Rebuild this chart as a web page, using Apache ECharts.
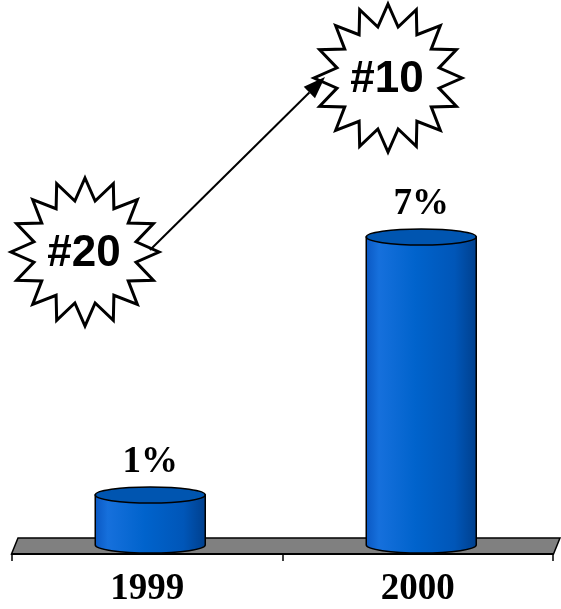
<!DOCTYPE html>
<html>
<head>
<meta charset="utf-8">
<script src="https://cdn.jsdelivr.net/npm/echarts@6/dist/echarts.min.js"></script>
<style>
  html, body { margin: 0; padding: 0; background: #fff; }
  #chart { width: 561px; height: 609px; }
</style>
</head>
<body>
<div id="chart"></div>
<script>
// Market share by year, with the ranking shown in the bursts
const categories = ['1999', '2000'];
const shares = [1, 7];
const shareLabels = ['1%', '7%'];
const ranks = ['#20', '#10'];

const chart = echarts.init(document.getElementById('chart'), null, { renderer: 'canvas' });

const BAR_W = 110;      // cylinder diameter
const RY = 8;           // ellipse half-height of the cylinder caps
const DEPTH = [-6.5, 16]; // floor depth vector (back edge -> front edge)
const SERIF = '"Liberation Serif", "Times New Roman", serif';

// Cylinder body gradient, lit from the left
const bodyFill = new echarts.graphic.LinearGradient(0, 0, 1, 0, [
  { offset: 0, color: '#0a57c2' },
  { offset: 0.12, color: '#1670dc' },
  { offset: 0.45, color: '#0063cc' },
  { offset: 0.8, color: '#0056b8' },
  { offset: 1, color: '#003f8c' }
]);

function starPoints(cx, cy, rOut, rIn, n) {
  const pts = [];
  for (let i = 0; i < n * 2; i++) {
    const a = -Math.PI / 2 + i * Math.PI / n;
    const r = i % 2 === 0 ? rOut : rIn;
    pts.push([cx + r * Math.cos(a), cy + r * Math.sin(a)]);
  }
  return pts;
}

function burst(cx, cy, text) {
  return [
    {
      type: 'polygon',
      z: 10,
      shape: { points: starPoints(cx, cy, 74, 52, 16) },
      style: { fill: '#fff', stroke: '#000', lineWidth: 3, lineJoin: 'miter' }
    },
    {
      type: 'text',
      z: 11,
      x: cx - 1, y: cy + 2,
      style: {
        text: text,
        fill: '#000',
        font: 'bold 44px "Liberation Sans", Arial, sans-serif',
        align: 'center',
        verticalAlign: 'middle'
      }
    }
  ];
}

// Arrow from the first burst toward the second
const arrowFrom = [150, 250];
const arrowTo = [325, 77];
const adx = arrowTo[0] - arrowFrom[0], ady = arrowTo[1] - arrowFrom[1];
const alen = Math.sqrt(adx * adx + ady * ady);
const ux = adx / alen, uy = ady / alen;
const HEAD_L = 22, HEAD_W = 8;
const headBase = [arrowTo[0] - ux * HEAD_L, arrowTo[1] - uy * HEAD_L];

const option = {
  animation: false,
  backgroundColor: '#fff',
  grid: [
    { left: 18, right: 1, top: 22, bottom: 71 },
    { left: 12, right: 8, bottom: 55, height: 1 }
  ],
  xAxis: [
    {
      gridIndex: 0, type: 'category', data: categories,
      axisLine: { show: false }, axisTick: { show: false }, axisLabel: { show: false },
      splitLine: { show: false }
    },
    {
      gridIndex: 1, type: 'category', data: categories,
      axisLine: { show: true, lineStyle: { color: '#000', width: 2 } },
      axisTick: { show: true, length: 7, lineStyle: { color: '#000', width: 1.5 } },
      axisLabel: {
        color: '#000', fontSize: 37, fontWeight: 'bold',
        fontFamily: SERIF,
        margin: 17
      },
      z: 5
    }
  ],
  yAxis: [
    { gridIndex: 0, type: 'value', min: 0, max: 12, show: false, splitLine: { show: false } },
    { gridIndex: 1, type: 'value', show: false, splitLine: { show: false } }
  ],
  series: [
    {
      // gray floor under the cylinders
      type: 'custom',
      xAxisIndex: 0, yAxisIndex: 0,
      data: [[0]],
      z: 1,
      silent: true,
      renderItem: function (params, api) {
        const cs = params.coordSys;
        const yb = cs.y + cs.height;
        return {
          type: 'polygon',
          shape: {
            points: [
              [cs.x, yb], [cs.x + cs.width, yb],
              [cs.x + cs.width + DEPTH[0], yb + DEPTH[1]],
              [cs.x + DEPTH[0], yb + DEPTH[1]]
            ]
          },
          style: { fill: '#808080', stroke: '#000', lineWidth: 1.5 }
        };
      }
    },
    {
      // cylinders
      type: 'custom',
      xAxisIndex: 0, yAxisIndex: 0,
      data: categories.map((c, i) => [i, shares[i]]),
      z: 3,
      renderItem: function (params, api) {
        const idx = params.dataIndex;
        const topPt = api.coord([api.value(0), api.value(1)]);
        const basePt = api.coord([api.value(0), 0]);
        const cx = topPt[0] + DEPTH[0] / 2;
        const yt = topPt[1];
        const yb = basePt[1] + DEPTH[1] / 2 - 1;
        const rx = BAR_W / 2;
        const x0 = cx - rx, x1 = cx + rx;
        const bodyPath =
          'M' + x0 + ' ' + yt + ' L' + x0 + ' ' + yb +
          ' A' + rx + ' ' + RY + ' 0 0 0 ' + x1 + ' ' + yb +
          ' L' + x1 + ' ' + yt + ' Z';
        return {
          type: 'group',
          children: [
            {
              type: 'path',
              shape: { pathData: bodyPath },
              style: { fill: bodyFill, stroke: '#000', lineWidth: 1.5 }
            },
            {
              type: 'ellipse',
              shape: { cx: cx, cy: yt, rx: rx, ry: RY },
              style: { fill: '#0055b0', stroke: '#000', lineWidth: 1.5 }
            },
            {
              type: 'text',
              x: cx, y: yt - 33,
              style: {
                text: shareLabels[idx],
                fill: '#000',
                font: 'bold 37px ' + SERIF,
                align: 'center',
                verticalAlign: 'middle'
              }
            }
          ]
        };
      }
    }
  ],
  graphic: [
    ...burst(85, 252, ranks[0]),
    ...burst(388, 78, ranks[1]),
    {
      type: 'line', z: 12,
      shape: { x1: arrowFrom[0], y1: arrowFrom[1], x2: headBase[0], y2: headBase[1] },
      style: { stroke: '#000', lineWidth: 2 }
    },
    {
      type: 'polygon', z: 12,
      shape: {
        points: [
          arrowTo,
          [headBase[0] - uy * HEAD_W, headBase[1] + ux * HEAD_W],
          [headBase[0] + uy * HEAD_W, headBase[1] - ux * HEAD_W]
        ]
      },
      style: { fill: '#000' }
    }
  ]
};

chart.setOption(option);
</script>
</body>
</html>
